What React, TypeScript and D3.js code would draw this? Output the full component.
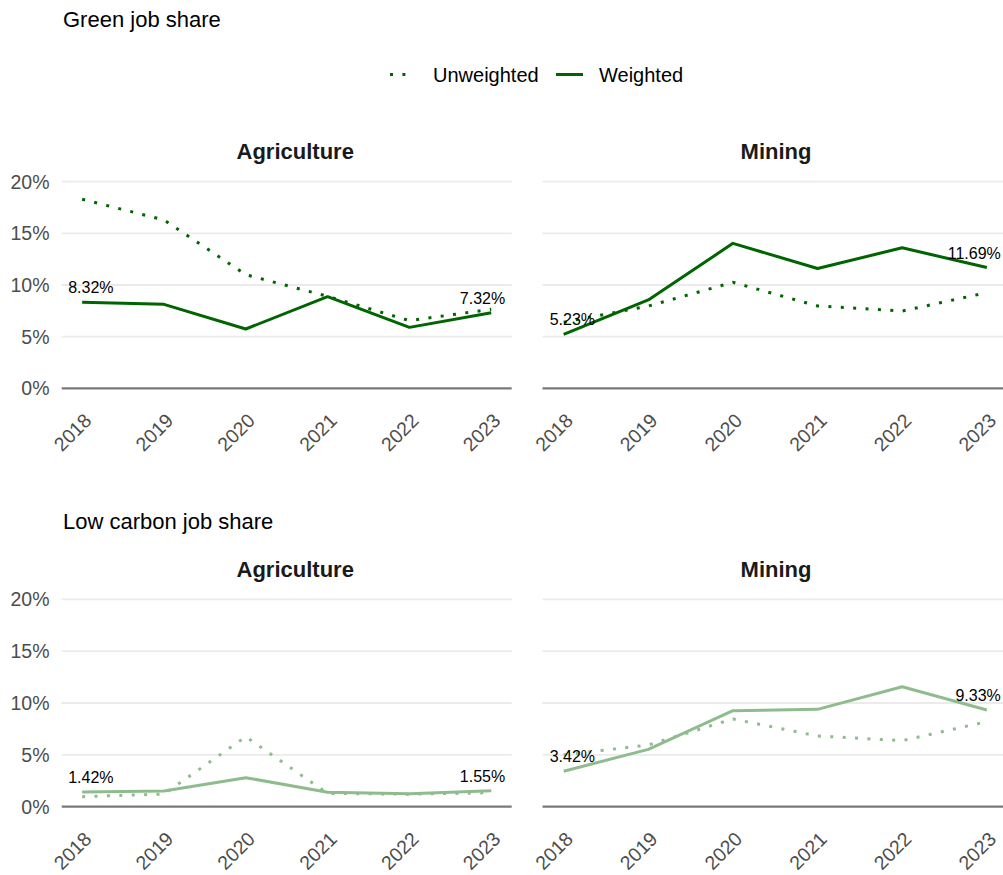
import React from "react";
import * as d3 from "d3";

// Survey years shown on every panel
const years = [2018, 2019, 2020, 2021, 2022, 2023];

// Green job share (%), by sector
const greenAgriWeighted = [8.32, 8.13, 5.74, 8.87, 5.9, 7.32];
const greenAgriUnweighted = [18.3, 16.3, 11.0, 8.9, 6.55, 7.65];
const greenMiningWeighted = [5.23, 8.55, 14.03, 11.6, 13.6, 11.69];
const greenMiningUnweighted = [6.4, 7.96, 10.26, 7.97, 7.48, 9.26];

// Low carbon job share (%), by sector
const lowAgriWeighted = [1.42, 1.51, 2.8, 1.39, 1.25, 1.55];
const lowAgriUnweighted = [0.97, 1.22, 6.75, 1.28, 1.2, 1.35];
const lowMiningWeighted = [3.42, 5.53, 9.26, 9.39, 11.57, 9.33];
const lowMiningUnweighted = [5.0, 5.95, 8.46, 6.82, 6.37, 8.2];

const yTicks = [0, 5, 10, 15, 20];
const sectors = ["Agriculture", "Mining"];
const legendLabels = ["Unweighted", "Weighted"];

const DARK = "#006400";
const LIGHT = "#8fbc8f";
const FONT = "'Liberation Sans', Arial, Helvetica, sans-serif";
const DOTS = "3 9.4";

type PanelProps = {
  x0: number;
  x1: number;
  yBase: number;
  yTop: number;
  title: string;
  weighted: number[];
  unweighted: number[];
  color: string;
  showY: boolean;
};

function Panel({ x0, x1, yBase, yTop, title, weighted, unweighted, color, showY }: PanelProps) {
  const x = d3.scalePoint<number>().domain(years).range([x0, x1]).padding(0.25);
  const y = d3.scaleLinear().domain([0, 20]).range([yBase, yTop]);
  const line = d3
    .line<number>()
    .x((_, i) => x(years[i]) as number)
    .y((d) => y(d));
  const gridRight = Math.min(x1, 1003);
  const first = 0;
  const last = years.length - 1;
  return (
    <g>
      {yTicks.map((t) => (
        <line
          key={t}
          x1={x0}
          x2={gridRight}
          y1={y(t)}
          y2={y(t)}
          stroke={t === 0 ? "#7a7a7a" : "#ebebeb"}
          strokeWidth={t === 0 ? 2.2 : 1.8}
        />
      ))}
      {showY &&
        yTicks.map((t) => (
          <text
            key={"yl" + t}
            x={49.5}
            y={y(t)}
            dy="0.36em"
            textAnchor="end"
            fontSize={19.5}
            fill="#4d4d4d"
            fontFamily={FONT}
          >
            {t}%
          </text>
        ))}
      {years.map((yr) => {
        const px = (x(yr) as number) + 10.5;
        const py = yBase + 33.5;
        return (
          <text
            key={"xl" + yr}
            transform={`translate(${px},${py}) rotate(-45)`}
            textAnchor="end"
            fontSize={19.5}
            fill="#4d4d4d"
            fontFamily={FONT}
          >
            {yr}
          </text>
        );
      })}
      <text
        x={x0 + 233.5}
        y={yTop - 22.5}
        textAnchor="middle"
        fontSize={22}
        fontWeight="bold"
        fill="#1a1a1a"
        fontFamily={FONT}
      >
        {title}
      </text>
      <path d={line(unweighted) ?? ""} fill="none" stroke={color} strokeWidth={3} strokeDasharray={DOTS} />
      <path d={line(weighted) ?? ""} fill="none" stroke={color} strokeWidth={3} strokeLinejoin="round" />
      <text
        x={(x(years[first]) as number) - 14}
        y={y(weighted[first]) - 9}
        textAnchor="start"
        fontSize={16}
        fill="#000"
        fontFamily={FONT}
      >
        {weighted[first].toFixed(2)}%
      </text>
      <text
        x={(x(years[last]) as number) + 14}
        y={y(weighted[last]) - 9}
        textAnchor="end"
        fontSize={16}
        fill="#000"
        fontFamily={FONT}
      >
        {weighted[last].toFixed(2)}%
      </text>
    </g>
  );
}

export default function App() {
  const leftX: [number, number] = [61.7, 511.7];
  const rightX: [number, number] = [542.5, 1008];
  return (
    <div style={{ position: "absolute", left: 0, top: 0 }}>
      <svg width={1003} height={875} style={{ display: "block", background: "#fff" }}>
        <text x={63} y={26.5} fontSize={22} fill="#000" fontFamily={FONT}>
          Green job share
        </text>
        {/* legend */}
        <line x1={390} x2={408} y1={74.5} y2={74.5} stroke={DARK} strokeWidth={3} strokeDasharray={DOTS} />
        <text x={433} y={74.5} dy="0.36em" fontSize={20} fill="#000" fontFamily={FONT}>
          {legendLabels[0]}
        </text>
        <line x1={556} x2={583} y1={74.5} y2={74.5} stroke={DARK} strokeWidth={3} />
        <text x={599} y={74.5} dy="0.36em" fontSize={20} fill="#000" fontFamily={FONT}>
          {legendLabels[1]}
        </text>

        <Panel x0={leftX[0]} x1={leftX[1]} yBase={388.3} yTop={181.7} title={sectors[0]}
          weighted={greenAgriWeighted} unweighted={greenAgriUnweighted} color={DARK} showY />
        <Panel x0={rightX[0]} x1={rightX[1]} yBase={388.3} yTop={181.7} title={sectors[1]}
          weighted={greenMiningWeighted} unweighted={greenMiningUnweighted} color={DARK} showY={false} />

        <text x={63} y={529} fontSize={22} fill="#000" fontFamily={FONT}>
          Low carbon job share
        </text>
        <Panel x0={leftX[0]} x1={leftX[1]} yBase={806.7} yTop={599.3} title={sectors[0]}
          weighted={lowAgriWeighted} unweighted={lowAgriUnweighted} color={LIGHT} showY />
        <Panel x0={rightX[0]} x1={rightX[1]} yBase={806.7} yTop={599.3} title={sectors[1]}
          weighted={lowMiningWeighted} unweighted={lowMiningUnweighted} color={LIGHT} showY={false} />
      </svg>
    </div>
  );
}
